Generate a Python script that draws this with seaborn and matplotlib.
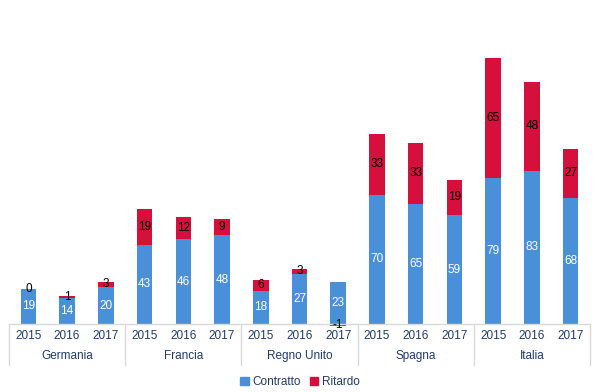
import numpy as np
import pandas as pd
import matplotlib.pyplot as plt
import seaborn as sns
from matplotlib.patches import Patch

countries = ["Germania", "Francia", "Regno Unito", "Spagna", "Italia"]
years = ["2015", "2016", "2017"]
contratto = [19, 14, 20, 43, 46, 48, 18, 27, 23, 70, 65, 59, 79, 83, 68]
ritardo = [0, 1, 3, 19, 12, 9, 6, 3, -1, 33, 33, 19, 65, 48, 27]

BLUE = "#4A90D9"
RED = "#D6103C"
NAVY = "#1F3A6B"
GRID = "#D9D9D9"

sns.set_theme(style="white")
plt.rcParams["font.family"] = ["Liberation Sans", "DejaVu Sans"]

df = pd.DataFrame({
    "slot": [f"{c}|{y}" for c in countries for y in years],
    "contratto": contratto,
    "ritardo": ritardo,
})
c = df["contratto"].to_numpy()
r = df["ritardo"].to_numpy()
df["red_top"] = np.where(r >= 0, c + r, r)

fig = plt.figure(figsize=(6, 3.92), dpi=100)
ax = fig.add_axes([9 / 600, 1 - 324 / 392, 581 / 600, 314 / 392])

order = list(df["slot"])
sns.barplot(data=df, x="slot", y="red_top", order=order, color=RED,
            saturation=1, width=0.4, ax=ax)
sns.barplot(data=df, x="slot", y="contratto", order=order, color=BLUE,
            saturation=1, width=0.4, ax=ax)
for p in ax.patches:
    p.set_clip_on(False)
    p.set_linewidth(0)

ax.set_xlim(-0.5, len(order) - 0.5)
ax.set_ylim(0, 170)
ax.set_yticks([])
ax.set_xlabel("")
ax.set_ylabel("")
for s in ["top", "right", "left"]:
    ax.spines[s].set_visible(False)
ax.spines["bottom"].set_color(GRID)
ax.spines["bottom"].set_linewidth(1)

# bar labels
for i, (cv, rv) in enumerate(zip(c, r)):
    ax.text(i, cv / 2, str(cv), ha="center", va="center", color="white",
            fontsize=8.5)
    if rv >= 0:
        ypos = cv + rv / 2
    else:
        ypos = rv / 2
    ax.text(i, ypos, str(rv), ha="center", va="center", color="black",
            fontsize=8.5, clip_on=False)

# hierarchical x axis
ax.set_xticks(range(len(order)))
ax.set_xticklabels(years * len(countries), color=NAVY, fontsize=8.5)
ax.tick_params(axis="x", length=0, pad=4)
trans = ax.get_xaxis_transform()
px = 1 / 314
for k, name in enumerate(countries):
    ax.text(3 * k + 1, -32 * px, name, transform=trans, ha="center",
            va="center", color=NAVY, fontsize=8.5)
for k in range(len(countries) + 1):
    ax.plot([3 * k - 0.5, 3 * k - 0.5], [0, -41 * px], transform=trans,
            color=GRID, lw=1, clip_on=False)

handles = [Patch(color=BLUE, label="Contratto"), Patch(color=RED, label="Ritardo")]
fig.legend(handles=handles, loc="center", bbox_to_anchor=(0.5, 1 - 382 / 392),
           ncol=2, frameon=False, fontsize=8.5, handlelength=0.7,
           handleheight=0.7, handletextpad=0.3, columnspacing=0.8,
           labelcolor=NAVY)

fig.savefig("out.png", dpi=100)
